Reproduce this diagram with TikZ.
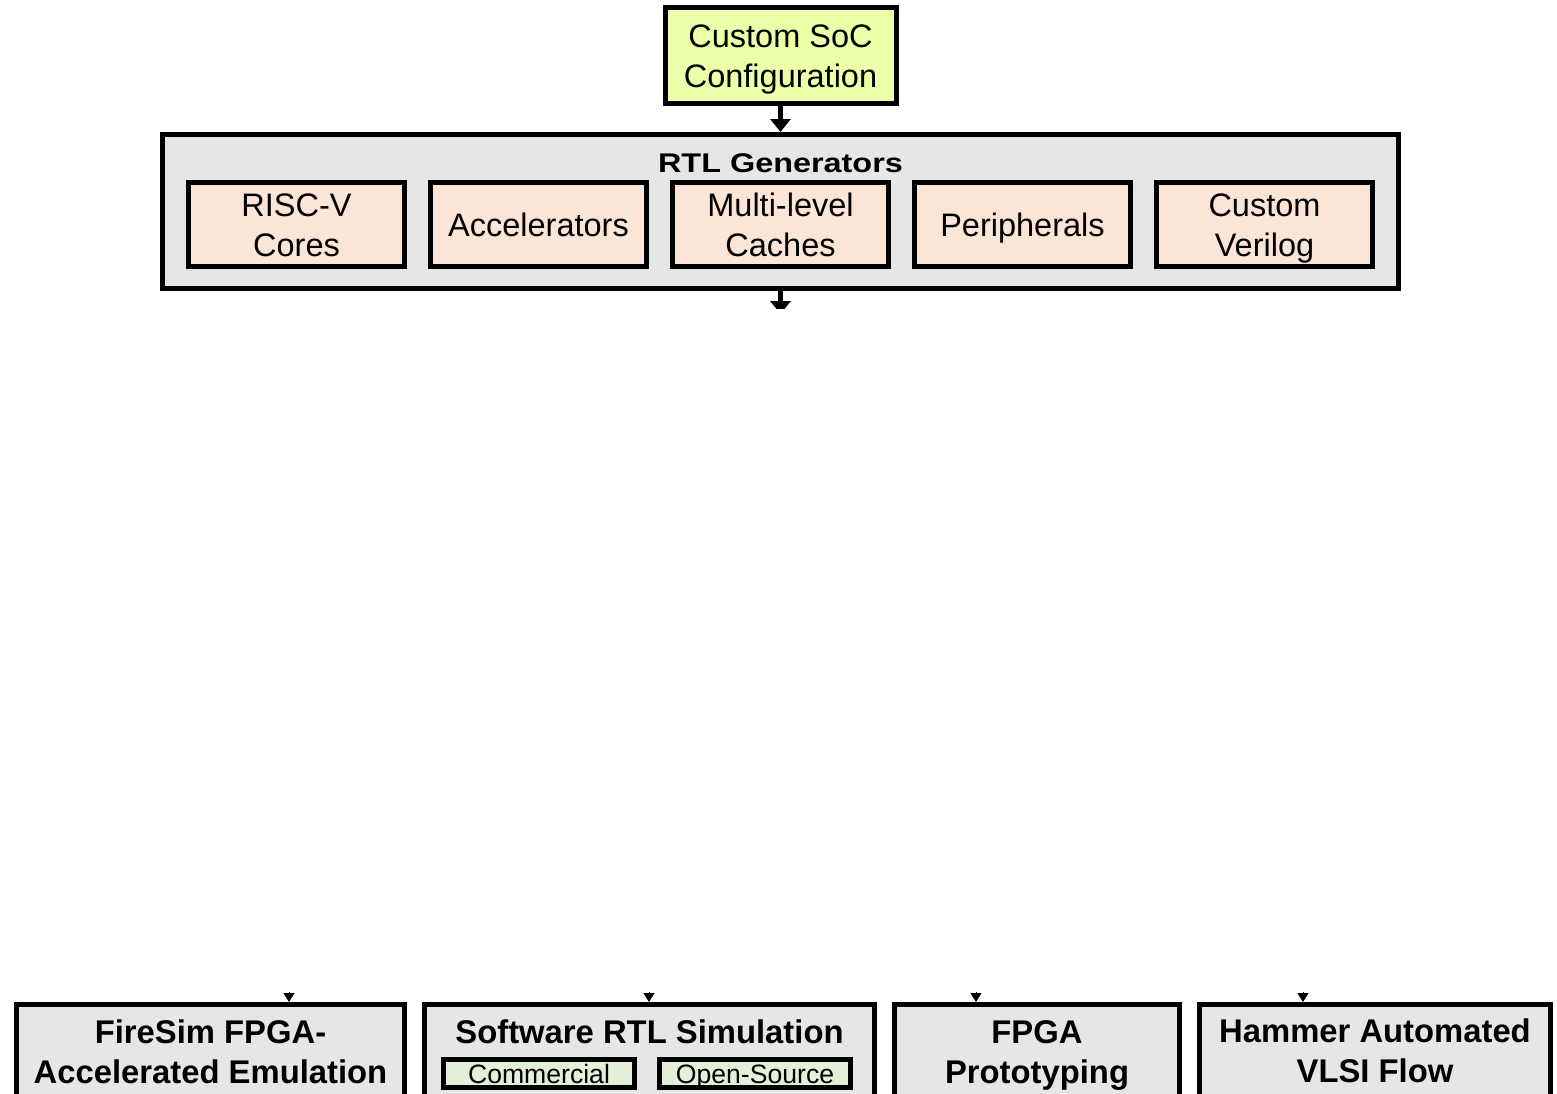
\documentclass[tikz,border=0pt]{standalone}
\usepackage{fontspec}
\setmainfont{Liberation Sans}
\newfontfamily\rtlwide[FakeStretch=1.2]{Liberation Sans}
\usetikzlibrary{arrows.meta}

\definecolor{socyellow}{RGB}{238,255,170}
\definecolor{peach}{RGB}{251,229,214}
\definecolor{graybg}{RGB}{230,230,230}
\definecolor{simgreen}{RGB}{226,240,217}

\newcommand\boxfont{\fontsize{32.5}{40}\selectfont}
\newcommand\hdfont{\bfseries\fontsize{32.8}{40}\selectfont}
\newcommand\smfont{\fontsize{26.6}{30}\selectfont}
\newcommand\rtlhead{\rtlwide\bfseries\fontsize{27}{30}\selectfont}
% 每行等高, 使单行与双行文字都居中
\newcommand\lnstrut{\rule[-0.25em]{0pt}{0.966em}}

\begin{document}
\begin{tikzpicture}[x=1pt, y=-1pt, >={Triangle[width=20pt,length=13pt]},
    box/.style={draw, line width=5pt, inner sep=0pt},
    txt/.style={align=center, font=\boxfont, inner sep=0pt, yshift=-4pt},
    gen/.style={box, fill=peach, minimum width=216pt, minimum height=84pt},
    flow/.style={box, fill=graybg, anchor=north, minimum height=200pt},
    sim/.style={box, fill=simgreen, minimum width=191pt, minimum height=28pt, font=\smfont,
        text height=22pt, text depth=2.95pt},
    head/.style={align=center, font=\hdfont, anchor=north, inner sep=0pt},
    tip/.style={-{Triangle[width=11pt,length=9pt]}, line width=1pt}]
    \useasboundingbox (0,0) rectangle (1557,1093);
    \clip (0,0) rectangle (1557,1093);

    % 配置
    \node[box, fill=socyellow, minimum width=231pt, minimum height=96pt] (soc) at (780.5,55.5) {};
    \node[txt] (soctxt) at (soc) {\lnstrut Custom SoC\\\lnstrut Configuration};

    % RTL 生成器
    \node[box, fill=graybg, minimum width=1236pt, minimum height=154pt] (rtl) at (780.5,211.5) {};
    \node[font=\rtlhead, inner sep=0pt] (rtltitle) at (780.5,163) {RTL Generators};
    \node[gen] (cores) at (296.5,224.5) {};
    \node[gen] (accel) at (538.5,224.5) {};
    \node[gen] (cache) at (780.5,224.5) {};
    \node[gen] (periph) at (1022.5,224.5) {};
    \node[gen] (verilog) at (1264.5,224.5) {};
    \node[txt] (corestxt) at (cores) {\lnstrut RISC-V\\\lnstrut Cores};
    \node[txt] (acceltxt) at (accel) {\lnstrut Accelerators};
    \node[txt] (cachetxt) at (cache) {\lnstrut Multi-level\\\lnstrut Caches};
    \node[txt] (periphtxt) at (periph) {\lnstrut Peripherals};
    \node[txt] (verilogtxt) at (verilog) {\lnstrut Custom\\\lnstrut Verilog};

    % 箭头
    \draw[->, line width=5pt] (soc.south) -- (rtl.north);
    \coordinate (down) at (780.5,314);
    \begin{scope}
        \clip (0,0) rectangle (1557,308);
        \draw[->, line width=5pt] (rtl.south) -- (down);
    \end{scope}

    % 下方流程
    \node[flow, minimum width=388pt] (firesim) at (210.5,1002) {};
    \node[head] (firesimtxt) at (210.5,1020) {FireSim FPGA-\\Accelerated Emulation};
    \node[flow, minimum width=450pt] (swsim) at (649.5,1002) {};
    \node[head] (swsimtxt) at (649.5,1020) {Software RTL Simulation};
    \node[sim] (comm) at (539,1073.5) {Commercial};
    \node[sim] (open) at (755,1073.5) {Open-Source};
    \node[flow, minimum width=285pt] (fpga) at (1037,1002) {};
    \node[head] (fpgatxt) at (1037,1020) {FPGA\\Prototyping};
    \node[flow, minimum width=351pt] (hammer) at (1375,1002) {};
    \node[head] (hammertxt) at (1375,1019) {Hammer Automated\\VLSI Flow};

    % 小箭头
    \coordinate (fsin) at (289,992);
    \coordinate (swin) at (649,992);
    \coordinate (fpin) at (976,992);
    \coordinate (hmin) at (1303,992);
    \draw[tip] (fsin) -- (fsin |- firesim.north);
    \draw[tip] (swin) -- (swin |- swsim.north);
    \draw[tip] (fpin) -- (fpin |- fpga.north);
    \draw[tip] (hmin) -- (hmin |- hammer.north);
\end{tikzpicture}
\end{document}
